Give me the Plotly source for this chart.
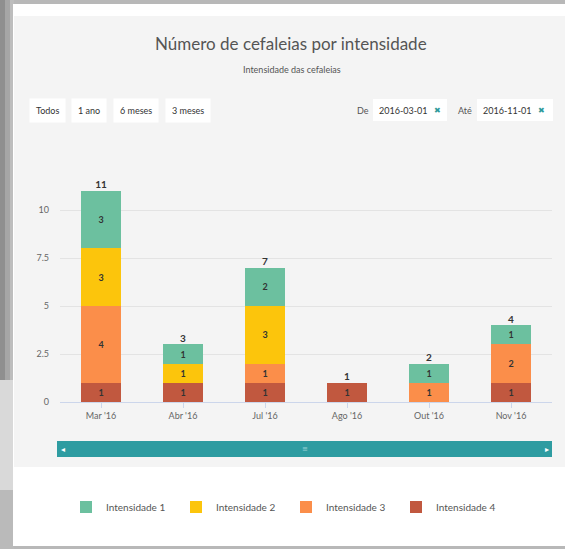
import plotly.graph_objects as go

# ---------------- data ----------------
categories = ["Mar '16", "Abr '16", "Jul '16", "Ago '16", "Out '16", "Nov '16"]
series_names = ["Intensidade 1", "Intensidade 2", "Intensidade 3", "Intensidade 4"]
intensidade_1 = [3, 1, 2, 0, 1, 1]
intensidade_2 = [3, 1, 3, 0, 0, 0]
intensidade_3 = [4, 0, 1, 0, 1, 2]
intensidade_4 = [1, 1, 1, 1, 0, 1]
y_tick_vals = [0, 2.5, 5, 7.5, 10, 12.5]
y_tick_text = ["0", "2.5", "5", "7.5", "10", ""]
range_buttons = ["Todos", "1 ano", "6 meses", "3 meses"]
date_from = "2016-03-01"
date_to = "2016-11-01"

colors = {
    "Intensidade 1": "#6cc09f",
    "Intensidade 2": "#fcc50c",
    "Intensidade 3": "#fb8e4a",
    "Intensidade 4": "#c1583f",
}

W, H = 565, 549
L, R, T, B = 60, 552, 162, 402


def px(x):
    return (x - L) / (R - L)


def py(y):
    return (B - y) / (B - T)


FONT = "Lato, 'Open Sans', sans-serif"

fig = go.Figure()

values = {
    "Intensidade 1": intensidade_1,
    "Intensidade 2": intensidade_2,
    "Intensidade 3": intensidade_3,
    "Intensidade 4": intensidade_4,
}

# stack bottom -> top: Intensidade 4, 3, 2, 1
for name in reversed(series_names):
    vals = values[name]
    fig.add_trace(go.Bar(
        x=categories, y=vals, name=name,
        marker=dict(color=colors[name], line=dict(width=0)),
        text=[str(v) if v else "" for v in vals],
        textposition="inside", insidetextanchor="middle", textangle=0,
        textfont=dict(size=9, color="#333333", family=FONT, weight="bold"),
        hoverinfo="skip",
    ))

totals = [a + b + c + d for a, b, c, d in zip(intensidade_1, intensidade_2, intensidade_3, intensidade_4)]
fig.add_trace(go.Scatter(
    x=categories, y=totals, mode="text", text=[str(t) for t in totals],
    textposition="top center",
    textfont=dict(size=10, color="#333333", family=FONT, weight="bold"),
    showlegend=False, hoverinfo="skip",
))

# ---------------- background decoration ----------------
shapes = []


def rect(x0, y0, x1, y1, color):
    shapes.append(dict(type="rect", xref="paper", yref="paper",
                       x0=px(x0), x1=px(x1), y0=py(y1), y1=py(y0),
                       fillcolor=color, line=dict(width=0), layer="below"))


# outer grey shading strips on the left
rect(0, 0, 5, 380, "#8f8f8f")
rect(5, 0, 10, 380, "#a6a6a6")
rect(10, 0, 14, 380, "#bdbdbd")
rect(0, 380, 14, 490, "#d9d9d9")
rect(0, 490, 14, 549, "#bababa")
# white card
rect(13, 4, 565, 546, "#ffffff")
# chart area
rect(14, 16, 565, 467, "#f4f4f4")
# navigator scrollbar
rect(57, 441, 552, 457, "#2e9ca1")
# date input boxes
rect(373, 99, 447, 121, "#ffffff")
rect(477, 99, 553, 121, "#ffffff")

annotations = []


def text(x, y, s, size=9, color="#333333", **kw):
    d = dict(xref="paper", yref="paper", x=px(x), y=py(y), text=s,
             showarrow=False, xanchor="center", yanchor="middle",
             font=dict(size=size, color=color, family=kw.pop("family", FONT)))
    d.update(kw)
    annotations.append(d)


# titles
text(291, 43, "Número de cefaleias por intensidade", size=17, color="#555555")
text(292, 69, "Intensidade das cefaleias", size=9, color="#555555")

# range selector buttons
for label, cx in zip(range_buttons, [47.5, 89, 136, 187.5]):
    text(cx, 110, label, size=9, color="#333333", bgcolor="#ffffff", borderpad=6)

# date inputs
text(363, 110, "De", size=9, color="#555555")
text(403, 110, date_from, size=9, color="#333333")
text(437, 110, "✖", size=8, color="#2e9a9a", family="DejaVu Sans")
text(465, 110, "Até", size=9, color="#555555")
text(507, 110, date_to, size=9, color="#333333")
text(541, 110, "✖", size=8, color="#2e9a9a", family="DejaVu Sans")

# scrollbar glyphs
text(63, 449, "◂", size=8, color="#ffffff", family="DejaVu Sans")
text(547, 449, "▸", size=8, color="#ffffff", family="DejaVu Sans")
text(305, 449, "≡", size=7, color="#9fd3d6", family="DejaVu Sans")

fig.update_layout(
    width=W, height=H,
    margin=dict(l=L, r=W - R, t=T, b=H - B, pad=0),
    paper_bgcolor="#b8b8b8",
    plot_bgcolor="rgba(0,0,0,0)",
    barmode="stack",
    bargap=0.51,
    font=dict(family=FONT, color="#666666", size=9),
    showlegend=True,
    legend=dict(
        orientation="h", x=px(286), xanchor="center", y=py(507), yanchor="middle",
        font=dict(size=10, color="#555555", family=FONT),
        bgcolor="rgba(0,0,0,0)", traceorder="reversed",
        entrywidth=65, entrywidthmode="pixels",
    ),
    xaxis=dict(
        type="category", showgrid=False, showline=True, linecolor="#ccd6eb",
        linewidth=1, ticks="outside", ticklen=5, tickcolor="#ccd6eb",
        tickfont=dict(size=9, color="#666666"), fixedrange=True, zeroline=False,
    ),
    yaxis=dict(
        range=[0, 12.5], tickvals=y_tick_vals, ticktext=y_tick_text,
        showgrid=True, gridcolor="#e3e3e3", gridwidth=1, zeroline=False,
        showline=False, ticks="", ticklabelstandoff=10,
        tickfont=dict(size=9, color="#666666"), fixedrange=True,
    ),
    shapes=shapes,
    annotations=annotations,
    hovermode=False,
)

fig.write_html(
    "out.html",
    config={"displayModeBar": False},
    post_script="document.body.style.margin='0';document.body.style.overflow='hidden';",
)
